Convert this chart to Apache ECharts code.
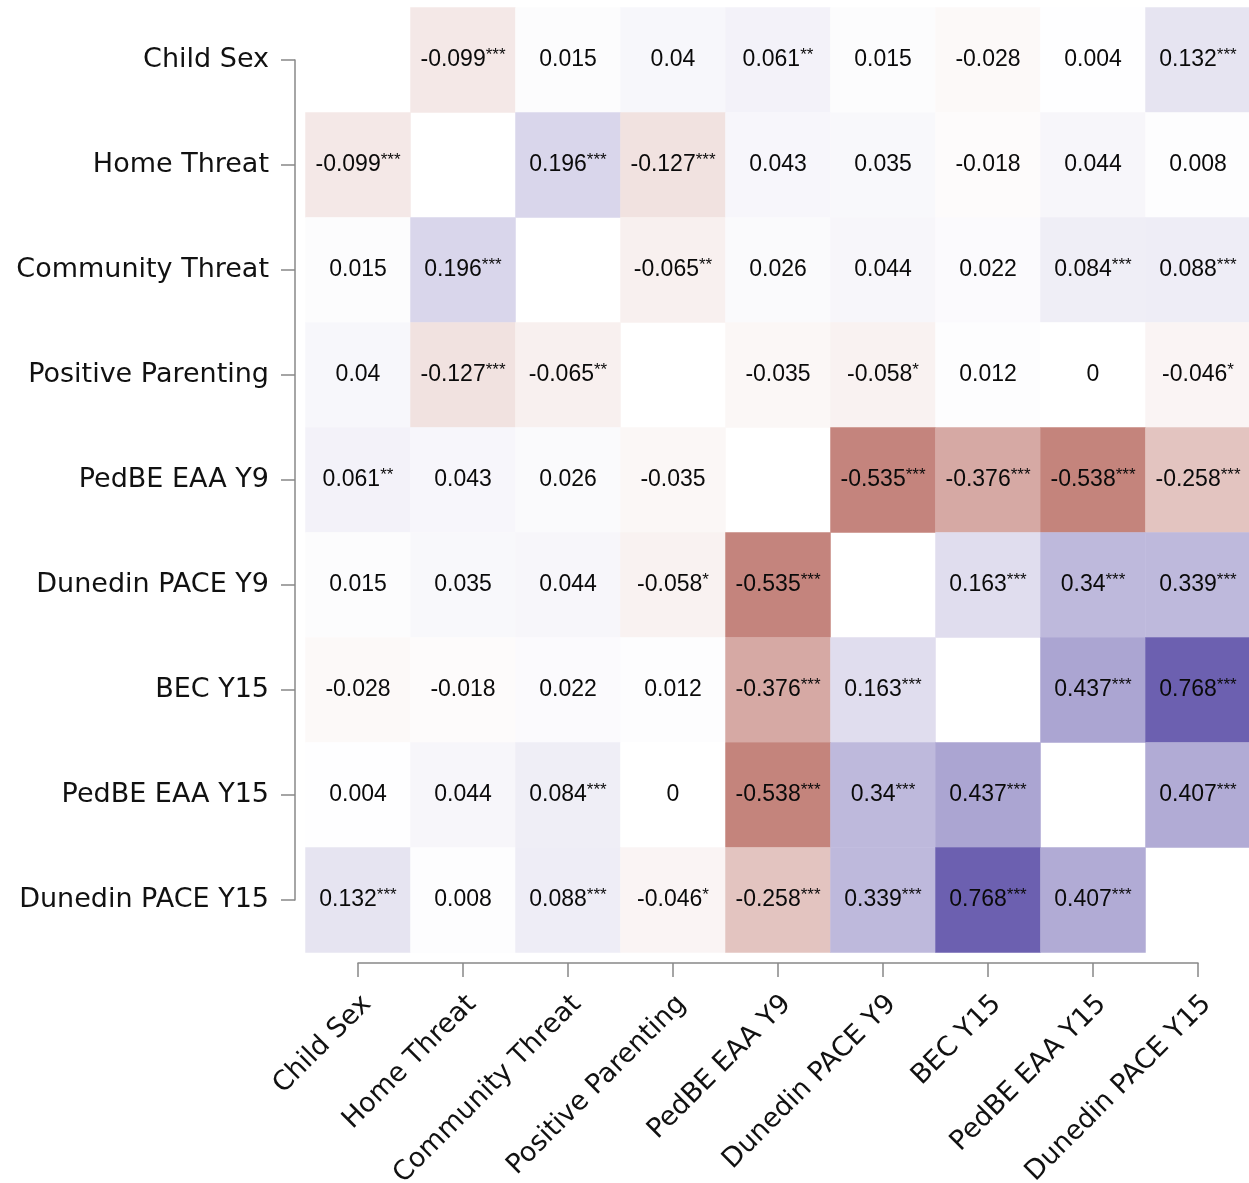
<!DOCTYPE html>
<html>
<head>
<meta charset="utf-8">
<script src="https://cdn.jsdelivr.net/npm/echarts@6/dist/echarts.min.js"></script>
<style>html,body{margin:0;padding:0;background:#fff;}#c{width:1249px;height:1183px;}</style>
</head>
<body>
<div id="c"></div>
<script>
var categories = ['Child Sex', 'Home Threat', 'Community Threat', 'Positive Parenting', 'PedBE EAA Y9', 'Dunedin PACE Y9', 'BEC Y15', 'PedBE EAA Y15', 'Dunedin PACE Y15'];

// correlation matrix (rows top to bottom, columns left to right); null = diagonal
var corr = [
  [null, -0.099, 0.015, 0.04, 0.061, 0.015, -0.028, 0.004, 0.132],
  [-0.099, null, 0.196, -0.127, 0.043, 0.035, -0.018, 0.044, 0.008],
  [0.015, 0.196, null, -0.065, 0.026, 0.044, 0.022, 0.084, 0.088],
  [0.04, -0.127, -0.065, null, -0.035, -0.058, 0.012, 0, -0.046],
  [0.061, 0.043, 0.026, -0.035, null, -0.535, -0.376, -0.538, -0.258],
  [0.015, 0.035, 0.044, -0.058, -0.535, null, 0.163, 0.34, 0.339],
  [-0.028, -0.018, 0.022, 0.012, -0.376, 0.163, null, 0.437, 0.768],
  [0.004, 0.044, 0.084, 0, -0.538, 0.34, 0.437, null, 0.407],
  [0.132, 0.008, 0.088, -0.046, -0.258, 0.339, 0.768, 0.407, null]
];

var stars = [
  ['', '***', '', '', '**', '', '', '', '***'],
  ['***', '', '***', '***', '', '', '', '', ''],
  ['', '***', '', '**', '', '', '', '***', '***'],
  ['', '***', '**', '', '', '*', '', '', '*'],
  ['**', '', '', '', '', '***', '***', '***', '***'],
  ['', '', '', '*', '***', '', '***', '***', '***'],
  ['', '', '', '', '***', '***', '', '***', '***'],
  ['', '', '***', '', '***', '***', '***', '', '***'],
  ['***', '', '***', '*', '***', '***', '***', '***', '']
];

var cells = [];
for (var i = 0; i < corr.length; i++) {
  for (var j = 0; j < corr[i].length; j++) {
    if (corr[i][j] !== null) cells.push([j, i, corr[i][j], stars[i][j]]);
  }
}

var axisFont = {fontFamily: 'DejaVu Sans', fontSize: 27, color: '#111'};
var axisLineStyle = {color: '#888', width: 1.5};

var chart = echarts.init(document.getElementById('c'));
chart.setOption({
  backgroundColor: '#fff',
  animation: false,
  grid: [
    {left: 305.5, top: 7.5, width: 945, height: 945, containLabel: false, outerBoundsMode: 'none'},
    {left: 358, top: 60, width: 840, height: 840, containLabel: false, outerBoundsMode: 'none'},
    {left: 367, top: 60, width: 840, height: 840, containLabel: false, outerBoundsMode: 'none'}
  ],
  xAxis: [
    {type: 'category', gridIndex: 0, data: categories, show: false},
    {type: 'category', gridIndex: 1, data: categories, boundaryGap: false, position: 'bottom', offset: 63,
      axisLine: {show: true, lineStyle: axisLineStyle},
      axisTick: {show: true, length: 14, interval: 0, lineStyle: axisLineStyle},
      splitLine: {show: false},
      axisLabel: {show: false, interval: 0}},
    {type: 'category', gridIndex: 2, data: categories, boundaryGap: false, position: 'bottom', offset: 63,
      axisLine: {show: false}, axisTick: {show: false}, splitLine: {show: false},
      axisLabel: Object.assign({rotate: 45, margin: 37, interval: 0}, axisFont)}
  ],
  yAxis: [
    {type: 'category', gridIndex: 0, data: categories, inverse: true, show: false},
    {type: 'category', gridIndex: 1, data: categories, inverse: true, boundaryGap: false, position: 'left', offset: 63,
      axisLine: {show: true, lineStyle: axisLineStyle},
      axisTick: {show: true, length: 14, interval: 0, lineStyle: axisLineStyle},
      splitLine: {show: false},
      axisLabel: Object.assign({margin: 26, interval: 0}, axisFont)},
    {type: 'category', gridIndex: 2, data: categories, inverse: true, show: false}
  ],
  visualMap: {
    show: false, type: 'continuous', min: -1, max: 1, dimension: 2, seriesIndex: 0,
    inRange: {color: ['rgb(145,26,12)', '#ffffff', 'rgb(63,48,152)']}
  },
  series: [{
    type: 'heatmap',
    xAxisIndex: 0, yAxisIndex: 0,
    data: cells,
    encode: {x: 0, y: 1, value: 2},
    label: {
      show: true,
      formatter: function (p) {
        var s = p.data[3];
        return '{v|' + String(p.data[2]) + '}' + (s ? '{s|' + s + '}' : '');
      },
      rich: {
        v: {fontFamily: 'Liberation Sans', fontSize: 23, color: '#0a0a0a', lineHeight: 26, verticalAlign: 'middle'},
        s: {fontFamily: 'Liberation Sans', fontSize: 17, color: '#0a0a0a', lineHeight: 26, verticalAlign: 'top', padding: [0, 0, 6, 0]}
      }
    },
    itemStyle: {borderWidth: 0},
    emphasis: {disabled: true}
  }]
});
</script>
</body>
</html>
